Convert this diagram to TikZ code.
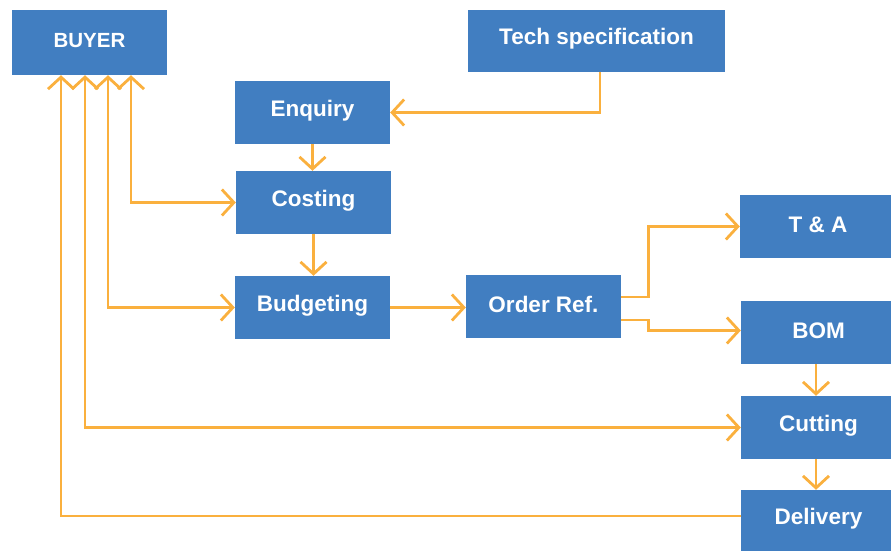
\documentclass[tikz,border=0pt]{standalone}
\usepackage{fontspec}
\setmainfont{Liberation Sans}
\usetikzlibrary{arrows.meta}
\definecolor{boxblue}{RGB}{65,126,193}
\definecolor{linkorange}{RGB}{250,176,62}
\newcommand\myuplift[1]{\raisebox{2pt}[\height][\depth]{#1}}
\begin{document}
\begin{tikzpicture}[x=1pt,y=-1pt,
  box/.style={fill=boxblue,draw=none,text=white,font=\fontsize{22.5}{26}\selectfont\bfseries,inner sep=0pt,align=center},
  link/.style={draw=linkorange,line width=2.8pt,-{Straight Barb[length=12pt,width=26pt]}},
  dlink/.style={draw=linkorange,line width=2.8pt,{Straight Barb[length=12pt,width=26pt]}-{Straight Barb[length=12pt,width=26pt]}}]
\useasboundingbox (0,0) rectangle (891,550);
\node[box,minimum width=155pt,minimum height=65pt,font=\fontsize{20.5}{24}\selectfont\bfseries] (buyer) at (89.5,42.5) {\myuplift{BUYER}};
\node[box,minimum width=257pt,minimum height=62pt] (tech) at (596.5,41) {\myuplift{Tech specification}};
\node[box,minimum width=155pt,minimum height=63pt] (enq) at (312.5,112.5) {\myuplift{Enquiry}};
\node[box,minimum width=155pt,minimum height=63pt] (cost) at (313.5,202.5) {\myuplift{Costing}};
\node[box,minimum width=155pt,minimum height=63pt] (budg) at (312.5,307.5) {\myuplift{Budgeting}};
\node[box,minimum width=155pt,minimum height=63pt] (order) at (543.5,306.5) {\myuplift{Order Ref.}};
\node[box,minimum width=151pt,minimum height=63pt] (ta) at (815.5,226.5) {\hspace*{5pt}\myuplift{T \& A}};
\node[box,minimum width=150pt,minimum height=63pt] (bom) at (816,332.5) {\hspace*{5pt}\myuplift{BOM}};
\node[box,minimum width=150pt,minimum height=63pt] (cut) at (816,427.5) {\hspace*{5pt}\myuplift{Cutting}};
\node[box,minimum width=150pt,minimum height=62pt] (del) at (816,521) {\hspace*{5pt}\myuplift{Delivery}};
\coordinate (b1) at ([xshift=-28.5pt]buyer.south);
\coordinate (b2) at ([xshift=-4.5pt]buyer.south);
\coordinate (b3) at ([xshift=18.5pt]buyer.south);
\coordinate (b4) at ([xshift=41.5pt]buyer.south);
\coordinate (ts) at ([xshift=3.5pt]tech.south);
\draw[link] (ts) |- (enq.east);
\draw[link] (enq.south) -- (enq.south |- cost.north);
\draw[link] (cost.south) -- (cost.south |- budg.north);
\draw[link] (budg.east) -- (budg.east -| order.west);
\draw[link] ([yshift=9.5pt]order.east) -- ++(27,0) |- (ta.west);
\draw[link] ([yshift=-13.5pt]order.east) -- ++(27,0) |- ([yshift=2pt]bom.west);
\draw[link] (bom.south) -- (cut.north);
\draw[link] (cut.south) -- (del.north);
\draw[dlink] (cost.west) -| (b4);
\draw[dlink] (budg.west) -| (b3);
\draw[dlink] (cut.west) -| (b2);
\draw[link] ([yshift=5pt]del.west) -| (b1);
\end{tikzpicture}
\end{document}
